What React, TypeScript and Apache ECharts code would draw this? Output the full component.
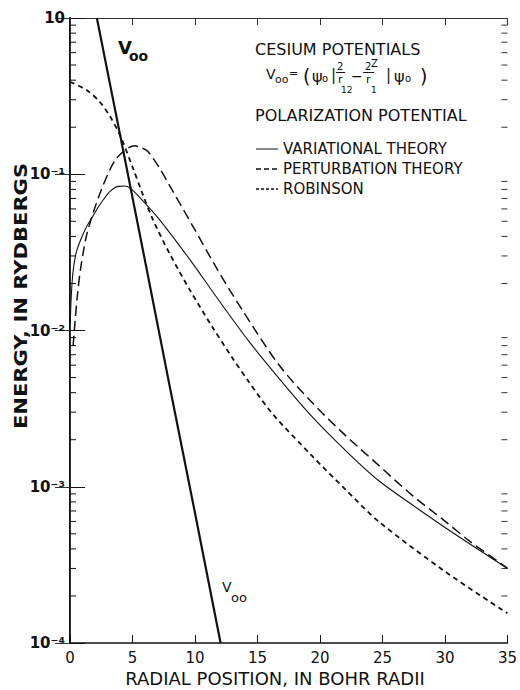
import React, { useEffect, useRef } from 'react';
import * as echarts from 'echarts';

// ---- data ----
const v00X = [2.15, 4, 6, 8, 10, 12.05];
const v00E = [1.0, 0.18, 0.028, 0.0043, 0.00068, 0.0001];

const variationalX = [0.02, 0.1, 0.25, 0.5, 0.9, 1.3, 1.85, 2.3, 2.65, 3.2, 3.84, 4.4, 4.91, 5.83, 7.16, 8.5, 9.81, 11.93, 14.32, 16.97, 19.35, 22, 24.66, 28, 31.3, 35];
const variationalE = [0.011, 0.0166, 0.024, 0.0316, 0.0389, 0.0457, 0.0543, 0.0624, 0.0684, 0.0776, 0.0836, 0.0841, 0.0804, 0.0676, 0.0513, 0.0372, 0.0269, 0.0155, 0.00851, 0.00468, 0.00282, 0.00172, 0.0011, 0.000708, 0.000468, 0.0003];

const perturbationX = [0.25, 0.4, 0.6, 0.85, 1.3, 1.85, 2.5, 3.18, 3.7, 4.24, 4.7, 5.17, 5.7, 6.23, 7.16, 7.95, 9.81, 11.8, 13.79, 16.71, 19.35, 22.01, 24.66, 27.31, 30, 32, 35];
const perturbationE = [0.008, 0.0113, 0.017, 0.025, 0.0398, 0.0565, 0.0794, 0.1064, 0.126, 0.139, 0.148, 0.152, 0.148, 0.14, 0.1096, 0.0851, 0.0468, 0.0245, 0.0135, 0.00603, 0.00347, 0.00214, 0.00138, 0.000891, 0.000603, 0.000447, 0.000301];

const robinsonX = [0, 1.33, 2.39, 3.18, 3.82, 4.22, 5.01, 5.83, 6.63, 7.95, 9.55, 11.4, 12.99, 14.32, 16.17, 19.35, 22.01, 24.66, 29.97, 35];
const robinsonE = [0.391, 0.346, 0.29, 0.236, 0.191, 0.162, 0.111, 0.0741, 0.0513, 0.0313, 0.0184, 0.0105, 0.00668, 0.00468, 0.00295, 0.00158, 0.000966, 0.000603, 0.000288, 0.000155];

const xMin = 0;
const xMax = 35;
const xInterval = 5;
const yMin = 0.0001;
const yMax = 1;
const decades = [0.0001, 0.001, 0.01, 0.1];
const minorMultipliers = [2, 3, 4, 5, 6, 7, 8, 9];
const yTickLabels: Record<string, string> = { '0': '10', '-1': '10⁻¹', '-2': '10⁻²', '-3': '10⁻³', '-4': '10⁻⁴' };

const legendNames = ['VARIATIONAL THEORY', 'PERTURBATION THEORY', 'ROBINSON'];

const FONT = '"DejaVu Sans", "Liberation Sans", sans-serif';
const INK = '#111';

const pairs = (xs: number[], ys: number[]) => xs.map((x, i) => [x, ys[i]]);

function txt(text: string, x: number, y: number, size: number, extra: any = {}, el: any = {}) {
  return {
    type: 'text',
    x,
    y,
    silent: true,
    ...el,
    style: {
      text,
      fontSize: size,
      fontFamily: FONT,
      fill: INK,
      align: 'left',
      textAlign: 'left',
      verticalAlign: 'middle',
      textVerticalAlign: 'middle',
      ...extra,
    },
  };
}

function hline(x1: number, x2: number, y: number, width: number, dash?: number[]) {
  return {
    type: 'line',
    silent: true,
    shape: { x1, y1: y, x2, y2: y },
    style: { stroke: INK, lineWidth: width, lineDash: dash },
  };
}

export default function App() {
  const ref = useRef<HTMLDivElement>(null);

  useEffect(() => {
    document.body.style.margin = '0';
    const chart = echarts.init(ref.current!, null, { renderer: 'svg' });

    const minorTicks: number[][] = [];
    decades.forEach((d) => minorMultipliers.forEach((m) => minorTicks.push([xMin, m * d])));

    const legendY = [149, 169, 189];
    const legendDash = [undefined, [5, 3], [3, 2]];
    const legendWidth = [1, 1.4, 1.6];

    const graphics: any[] = [
      // axis titles
      txt('RADIAL POSITION, IN BOHR RADII', 275, 679, 17, { align: 'center', textAlign: 'center' }, { scaleX: 1.06 }),
      txt('ENERGY, IN RYDBERGS', 21, 296, 17, { align: 'center', textAlign: 'center', fontWeight: 'bold' }, { rotation: Math.PI / 2, scaleX: 1.24 }),
      // V00 annotations
      txt('V', 118, 47, 18, { fontWeight: 'bold' }),
      txt('oo', 129, 56, 14, { fontWeight: 'bold' }),
      txt('V', 222, 587, 14),
      txt('oo', 231, 597, 13),
      // legend block
      txt('CESIUM POTENTIALS', 255, 49, 16),
      txt('V', 266, 74, 14),
      txt('oo', 275, 79, 11),
      txt('=', 289, 73, 11),
      txt('(', 303, 76, 19),
      txt('ψ', 312, 76, 16),
      txt('o', 322, 78, 10),
      txt('|', 331, 75, 15),
      txt('2', 337, 66, 10),
      hline(336, 345, 72.5, 1),
      txt('r', 338, 79, 11),
      txt('12', 341, 90, 9),
      txt('−', 351, 76, 14),
      txt('2', 365, 66, 10),
      txt('Z', 371, 63, 10),
      hline(363, 374, 72.5, 1),
      txt('r', 366, 79, 11),
      txt('1', 371, 90, 9),
      txt('|', 386, 75, 15),
      txt('ψ', 394, 76, 16),
      txt('o', 405, 78, 10),
      txt(')', 420, 76, 19),
      txt('POLARIZATION POTENTIAL', 255, 115, 16),
    ];
    legendNames.forEach((name, i) => {
      graphics.push(hline(256, 278, legendY[i], legendWidth[i], legendDash[i]));
      graphics.push(txt(name, 283, legendY[i], 15));
    });

    const baseLine = { symbol: 'none', silent: true, xAxisIndex: 0, yAxisIndex: 0 };

    chart.setOption({
      animation: false,
      backgroundColor: '#fff',
      textStyle: { fontFamily: FONT, color: INK },
      grid: { left: 70, right: 10, top: 18, bottom: 47, containLabel: false },
      xAxis: [
        {
          type: 'value',
          min: xMin,
          max: xMax,
          interval: xInterval,
          position: 'bottom',
          axisLine: { show: true, lineStyle: { color: INK, width: 1.6 } },
          axisTick: { show: true, inside: true, length: 8, lineStyle: { color: INK, width: 1 } },
          axisLabel: { show: true, color: INK, fontSize: 15, margin: 7, fontFamily: FONT, showMinLabel: true, showMaxLabel: true },
          splitLine: { show: false },
        },
        {
          type: 'value',
          min: xMin,
          max: xMax,
          interval: xInterval,
          position: 'top',
          axisLine: { show: true, lineStyle: { color: '#333', width: 1 } },
          axisTick: { show: true, inside: true, length: 7, lineStyle: { color: '#333', width: 1 } },
          axisLabel: { show: false },
          splitLine: { show: false },
        },
      ],
      yAxis: [
        {
          type: 'log',
          logBase: 10,
          min: yMin,
          max: yMax,
          position: 'left',
          axisLine: { show: true, lineStyle: { color: INK, width: 2 } },
          axisTick: { show: true, inside: true, length: 15, lineStyle: { color: INK, width: 1 } },
          axisLabel: {
            show: true,
            color: INK,
            fontSize: 15,
            fontWeight: 'bold',
            margin: 5,
            fontFamily: FONT,
            formatter: (v: number) => yTickLabels[String(Math.round(Math.log10(v)))] ?? '',
          },
          splitLine: { show: false },
        },
        {
          type: 'log',
          logBase: 10,
          min: yMin,
          max: yMax,
          position: 'right',
          axisLine: { show: true, lineStyle: { color: '#333', width: 1 } },
          axisTick: { show: true, inside: true, length: 15, lineStyle: { color: '#333', width: 1 } },
          axisLabel: { show: false },
          splitLine: { show: false },
        },
      ],
      graphic: graphics,
      series: [
        {
          type: 'custom',
          name: 'minor ticks',
          silent: true,
          clip: false,
          xAxisIndex: 0,
          yAxisIndex: 0,
          data: minorTicks,
          renderItem: (params: any, api: any) => {
            const v = api.value(1);
            const l = api.coord([xMin, v]);
            const r = api.coord([xMax, v]);
            return {
              type: 'group',
              children: [
                { type: 'line', shape: { x1: l[0], y1: l[1], x2: l[0] + 6, y2: l[1] }, style: { stroke: INK, lineWidth: 1 } },
                { type: 'line', shape: { x1: r[0] - 6, y1: r[1], x2: r[0], y2: r[1] }, style: { stroke: '#333', lineWidth: 1 } },
              ],
            };
          },
        },
        {
          ...baseLine,
          type: 'line',
          name: 'V00',
          data: pairs(v00X, v00E),
          lineStyle: { color: INK, width: 2.2 },
        },
        {
          ...baseLine,
          type: 'line',
          name: legendNames[0],
          data: pairs(variationalX, variationalE),
          smooth: 0.3,
          lineStyle: { color: INK, width: 1.1 },
        },
        {
          ...baseLine,
          type: 'line',
          name: legendNames[1],
          data: pairs(perturbationX, perturbationE),
          smooth: 0.3,
          lineStyle: { color: INK, width: 1.5, type: [10, 5] },
        },
        {
          ...baseLine,
          type: 'line',
          name: legendNames[2],
          data: pairs(robinsonX, robinsonE),
          smooth: 0.3,
          lineStyle: { color: INK, width: 1.8, type: [5, 4] },
        },
      ],
    });

    return () => chart.dispose();
  }, []);

  return <div ref={ref} style={{ width: 520, height: 690, background: '#fff' }} />;
}
